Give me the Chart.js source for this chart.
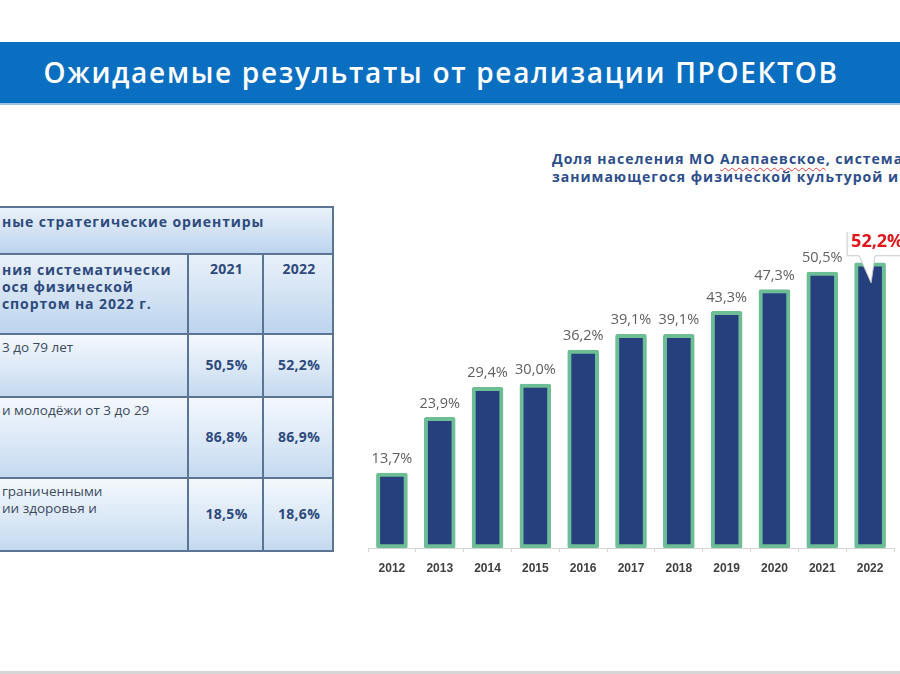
<!DOCTYPE html>
<html lang="ru">
<head>
<meta charset="utf-8">
<title>Ожидаемые результаты от реализации ПРОЕКТОВ</title>
<script src="https://cdn.jsdelivr.net/npm/chart.js@4.4.1/dist/chart.umd.min.js"></script>
<style>
  html, body { margin: 0; padding: 0; }
  body { width: 900px; height: 674px; position: relative; overflow: hidden; background: #fff;
         font-family: 'Open Sans', 'Noto Sans', sans-serif; }
  .banner { position: absolute; left: 0; top: 42px; width: 900px; height: 61px; background: #0b6fc1;
            border-bottom: 2px solid #9cc3e6; }
  .banner h1 { margin: 0; position: absolute; left: 0; right: 18px; top: 11px; text-align: center;
               color: #fff; font-weight: 600; font-size: 28px; letter-spacing: 1.7px; }
  .cell { position: absolute; box-sizing: border-box;
          background: linear-gradient(#f4f8fd, #dbe8f6 55%, #c4d9ef);
          border-right: 2px solid #5c7493; border-bottom: 2px solid #5c7493; color: #2e4a7d; }
  .hdr  { background: linear-gradient(#e9f1fa, #cfe0f2 60%, #bcd4ee); }
  .txt  { position: absolute; white-space: nowrap; font-size: 13.5px; color: #3b4a60; line-height: 17px; }
  .b    { font-weight: 700; color: #2e4a7d; font-size: 14px; letter-spacing: 0.9px; }
  .val  { position: absolute; width: 100%; text-align: center; font-size: 14px; font-weight: 700; color: #2e4a7d;
          letter-spacing: 0.3px; }
  .ctitle { position: absolute; left: 552px; top: 150px; white-space: nowrap; font-size: 14px; font-weight: 700;
            color: #2d4e8a; line-height: 18px; letter-spacing: 1px; }
  .wavy { text-decoration: underline wavy #e04040; text-decoration-thickness: 1px; text-underline-offset: 3px; }
  #wrap { position: absolute; left: 360px; top: 232px; width: 540px; height: 346px; }
  .foot { position: absolute; left: 0; top: 671px; width: 900px; height: 3px; background: #d6d6d6; }
</style>
</head>
<body>
<div class="banner"><h1>Ожидаемые результаты от реализации ПРОЕКТОВ</h1></div>

<!-- left table (cut by the slide edge) -->
<div style="position:absolute;left:0;top:206px;width:334px;height:2px;background:#5c7493"></div>
<div class="cell hdr" style="left:-2px;top:208px;width:336px;height:47px"></div>
<div class="txt b" style="left:2px;top:213px">ные стратегические ориентиры</div>

<div class="cell hdr" style="left:-2px;top:255px;width:191px;height:80px"></div>
<div class="cell hdr" style="left:189px;top:255px;width:75px;height:80px"></div>
<div class="cell hdr" style="left:264px;top:255px;width:70px;height:80px"></div>
<div class="txt b" style="left:2px;top:261px">ния систематически<br>ося физической<br>спортом на 2022 г.</div>

<div class="cell" style="left:-2px;top:335px;width:191px;height:63px"></div>
<div class="cell" style="left:189px;top:335px;width:75px;height:63px"></div>
<div class="cell" style="left:264px;top:335px;width:70px;height:63px"></div>
<div class="txt" style="left:2px;top:339px">3 до 79 лет</div>

<div class="cell" style="left:-2px;top:398px;width:191px;height:81px"></div>
<div class="cell" style="left:189px;top:398px;width:75px;height:81px"></div>
<div class="cell" style="left:264px;top:398px;width:70px;height:81px"></div>
<div class="txt" style="left:2px;top:402px">и молодёжи от 3 до 29</div>

<div class="cell" style="left:-2px;top:479px;width:191px;height:73px"></div>
<div class="cell" style="left:189px;top:479px;width:75px;height:73px"></div>
<div class="cell" style="left:264px;top:479px;width:70px;height:73px"></div>
<div class="txt" style="left:2px;top:483px">граниченными<br>ии здоровья и</div>

<div id="vals"></div>

<div class="ctitle">Доля населения МО <span class="wavy">Алапаевское</span>, систематически<br>занимающегося физической культурой и спортом</div>

<div id="wrap"><canvas id="barChart"></canvas></div>
<div class="foot"></div>

<script>
/* ── data ── */
const years   = ['2012', '2013', '2014', '2015', '2016', '2017', '2018', '2019', '2020', '2021', '2022'];
const shares  = [13.7, 23.9, 29.4, 30.0, 36.2, 39.1, 39.1, 43.3, 47.3, 50.5, 52.2];
const calloutYear = '2022';

const tableCols   = ['2021', '2022'];
const tableVals21 = ['50,5%', '86,8%', '18,5%'];
const tableVals22 = ['52,2%', '86,9%', '18,6%'];

/* ── table numbers ── */
const valBox  = document.getElementById('vals');
const colLeft = [189, 264], colW = [75, 70];
const rowTop  = [355, 427, 504];
function put(text, x, w, y, cls) {
  const d = document.createElement('div');
  d.className = cls; d.textContent = text;
  d.style.left = x + 'px'; d.style.width = w + 'px'; d.style.top = y + 'px';
  valBox.appendChild(d);
}
tableCols.forEach((c, i) => put(c, colLeft[i], colW[i], 259, 'val'));
tableVals21.forEach((v, r) => put(v, colLeft[0], colW[0], rowTop[r], 'val'));
tableVals22.forEach((v, r) => put(v, colLeft[1], colW[1], rowTop[r], 'val'));

const fmt = v => v.toFixed(1).replace('.', ',') + '%';

/* ── value labels + callout ── */
const labelPlugin = {
  id: 'valueLabels',
  afterDatasetsDraw(chart) {
    const ctx  = chart.ctx;
    const meta = chart.getDatasetMeta(0);
    ctx.save();
    meta.data.forEach((bar, i) => {
      const v = shares[i];
      if (years[i] === calloutYear) {
        const bx = bar.x - 23, by = bar.y - 37, bw = 70, bh = 30;
        ctx.beginPath();
        ctx.moveTo(bx, by);
        ctx.lineTo(bx + bw, by);
        ctx.lineTo(bx + bw, by + bh);
        ctx.lineTo(bar.x + 5, by + bh);
        ctx.lineTo(bar.x + 1, bar.y + 20);
        ctx.lineTo(bar.x - 11, by + bh);
        ctx.lineTo(bx, by + bh);
        ctx.closePath();
        ctx.fillStyle = '#ffffff';
        ctx.fill();
        ctx.strokeStyle = '#c8c8c8';
        ctx.lineWidth = 1;
        ctx.stroke();
        ctx.fillStyle = '#e0161b';
        ctx.font = "bold 18px 'Open Sans', sans-serif";
        ctx.textAlign = 'left';
        ctx.textBaseline = 'middle';
        ctx.fillText(fmt(v), bx + 4, by + bh / 2 + 1);
      } else {
        ctx.fillStyle = '#5f5f5f';
        ctx.font = "14.5px 'Open Sans', sans-serif";
        ctx.textAlign = 'center';
        ctx.textBaseline = 'middle';
        ctx.fillText(fmt(v), bar.x, bar.y - 14);
      }
    });
    ctx.restore();
  }
};

new Chart(document.getElementById('barChart'), {
  type: 'bar',
  data: {
    labels: years,
    datasets: [{
      data: shares,
      backgroundColor: '#263f7d',
      borderColor: '#6dbd95',
      borderWidth: 4,
      borderRadius: 2,
      borderSkipped: false,
      barThickness: 31
    }]
  },
  options: {
    responsive: true, maintainAspectRatio: false,
    animation: false,
    layout: { padding: { left: 8, right: 6, top: 10, bottom: 0 } },
    plugins: { legend: { display: false }, tooltip: { enabled: false } },
    scales: {
      x: {
        afterFit: s => { s.height = 30; },
        grid: { display: true, drawOnChartArea: false, offset: true, tickLength: 4, color: '#d4d4d4' },
        border: { color: '#d4d4d4', width: 1 },
        ticks: { color: '#404040', padding: 9, font: { family: 'Arial, Liberation Sans', size: 12, weight: 'bold' } }
      },
      y: { display: false, min: 0, max: 56 }
    }
  },
  plugins: [labelPlugin]
});
</script>
</body>
</html>
